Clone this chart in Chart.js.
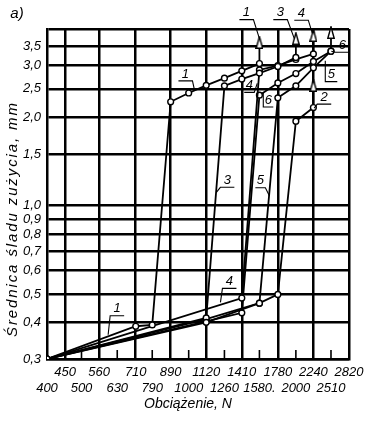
<!DOCTYPE html>
<html>
<head>
<meta charset="utf-8">
<script src="https://cdn.jsdelivr.net/npm/chart.js@4.4.0/dist/chart.umd.min.js"></script>
<style>
  html, body { margin: 0; padding: 0; background: #fff; }
  #wrap { width: 371px; height: 423px; }
</style>
</head>
<body>
<div id="wrap"><canvas id="chart" width="371" height="423"></canvas></div>
<script>
// load stages, N (R20 series) and the two label rows
const loadTicks = [400, 450, 500, 560, 630, 710, 790, 890, 1000, 1120, 1260, 1410, 1580, 1780, 2000, 2240, 2510, 2820];
const upperRow = [450, 560, 710, 890, 1120, 1410, 1780, 2240, 2820];
const wearTicks = [0.3, 0.4, 0.5, 0.6, 0.7, 0.8, 0.9, 1.0, 1.5, 2.0, 2.5, 3.0, 3.5, 4.0];

// wear scar diameter (mm) vs load (N), one pair per curve
const load1 = [400, 710, 790, 890, 1000, 1120, 1260, 1410, 1580];
const wear1 = [0.3, 0.388, 0.392, 2.26, 2.42, 2.57, 2.72, 2.88, 3.05];
const load2 = [400, 1120, 1580, 1780, 2000, 2240];
const wear2 = [0.3, 0.40, 0.465, 0.498, 1.94, 2.16];
const load3 = [400, 1120, 1260, 1410, 1580, 1780, 2000];
const wear3 = [0.3, 0.414, 2.56, 2.70, 2.83, 2.98, 3.2];
const load4 = [400, 1410, 1580, 1780, 2000, 2240];
const wear4 = [0.3, 0.484, 2.9, 3.0, 3.15, 3.29];
const load5 = [400, 1120, 1580, 1780, 2000, 2240, 2510];
const wear5 = [0.3, 0.41, 0.465, 2.33, 2.56, 2.95, 3.36];
const load6 = [400, 1120, 1410, 1580, 1780, 2000, 2240, 2510];
const wear6 = [0.3, 0.403, 0.431, 2.38, 2.62, 2.82, 3.10, 3.36];

// seizure arrows: load, from, to
const arrowLoad = [1580, 2240, 2000, 2240, 2510];
const arrowFrom = [3.05, 2.16, 3.2, 3.29, 3.36];
const arrowTo = [3.60, 2.57, 3.71, 3.80, 3.89];

// dashed guide above arrow of curve 2
const guideLoad = [2240, 2240];
const guideWear = [2.62, 2.95];

const FONT = "'Liberation Sans Narrow', 'Liberation Sans', sans-serif";

function arrowHead() {
  const c = document.createElement('canvas');
  c.width = 8; c.height = 13;
  const g = c.getContext('2d');
  g.beginPath();
  g.moveTo(4, 0.8); g.lineTo(7.2, 12.2); g.lineTo(0.8, 12.2); g.closePath();
  g.fillStyle = '#fff'; g.fill();
  g.lineWidth = 1.4; g.strokeStyle = '#000'; g.stroke();
  return c;
}
const head = arrowHead();

function curve(loads, wear) {
  return {
    data: loads.map((x, i) => ({ x: x, y: wear[i] })),
    borderColor: '#000', borderWidth: 1.8, tension: 0,
    pointRadius: 2.9, pointBackgroundColor: '#fff', pointBorderColor: '#000', pointBorderWidth: 1.4
  };
}
function arrow(i) {
  return {
    data: [{ x: arrowLoad[i], y: arrowFrom[i] }, { x: arrowLoad[i], y: arrowTo[i] }],
    borderColor: '#000', borderWidth: 1.8, clip: false,
    pointRadius: [0, 5], pointStyle: head
  };
}

// callouts: anchor on the curve (load, wear), leader start offset, underline direction
const callouts = [
  { t: '1', load: 1580, wear: 3.71, lx: -6, ly: -19, dir: -1 },
  { t: '3', load: 1980, wear: 3.71, lx: -7, ly: -19, dir: -1 },
  { t: '4', load: 2224, wear: 3.87, lx: -4, ly: -13, dir: -1 },
  { t: '6', load: 2515, wear: 3.36, lx: 4, ly: 1, dir: 1 },
  { t: '5', load: 2419, wear: 3.12, lx: 0, ly: 21, dir: 1, w: 12 },
  { t: '2', load: 2252, wear: 2.15, lx: 3, ly: -4, dir: 1 },
  { t: '1', load: 1038, wear: 2.48, lx: -2, ly: -9, dir: -1 },
  { t: '4', load: 1558, wear: 2.61, lx: -3, ly: 9, dir: -1, w: 10 },
  { t: '6', load: 1620, wear: 2.44, lx: 0, ly: 15, dir: 1, w: 10 },
  { t: '3', load: 1196, wear: 1.11, lx: 4, ly: -5, dir: 1 },
  { t: '5', load: 1685, wear: 1.08, lx: -4, ly: -8, dir: -1, w: 10 },
  { t: '4', load: 1228, wear: 0.468, lx: 2, ly: -14, dir: 1 },
  { t: '1', load: 594, wear: 0.363, lx: 2, ly: -19, dir: 1 }
];

function spacedText(ctx, text, x, y, width) {
  ctx.letterSpacing = '0px';
  const natural = ctx.measureText(text).width;
  const sp = Math.max(0, (width - natural) / (text.length - 1));
  ctx.letterSpacing = sp.toFixed(2) + 'px';
  ctx.fillText(text, x + sp / 2, y);
  ctx.letterSpacing = '0px';
}

const decor = {
  id: 'decor',
  beforeDatasetsDraw(chart) {
    const { ctx, scales: { x }, chartArea } = chart;
    ctx.save();
    ctx.strokeStyle = '#000';
    ctx.lineWidth = 1.6;
    loadTicks.filter(v => !upperRow.includes(v) && v > 400).forEach(v => {
      const px = x.getPixelForValue(v);
      ctx.beginPath();
      ctx.moveTo(px, chartArea.bottom);
      ctx.lineTo(px, chartArea.bottom - 9);
      ctx.stroke();
    });
    ctx.restore();
  },
  afterDraw(chart) {
    const { ctx, scales: { x, y } } = chart;
    ctx.save();
    ctx.fillStyle = '#000';
    ctx.strokeStyle = '#000';
    ctx.textAlign = 'center';
    ctx.textBaseline = 'middle';

    ctx.font = 'italic 15px ' + FONT;
    ctx.fillText('a)', 17, 14);

    ctx.font = 'italic 14px ' + FONT;
    spacedText(ctx, 'Obciążenie, N', 188, 404, 86);

    ctx.save();
    ctx.translate(13, 220);
    ctx.rotate(-Math.PI / 2);
    ctx.font = 'italic 15px ' + FONT;
    spacedText(ctx, 'Średnica śladu zużycia, mm', 0, 0, 234);
    ctx.restore();

    ctx.font = 'italic 13px ' + FONT;
    ctx.lineWidth = 1.1;
    callouts.forEach(c => {
      const ax = x.getPixelForValue(c.load);
      const ay = y.getPixelForValue(c.wear);
      const sx = ax + c.lx, sy = ay + c.ly;
      const w = c.w || 14;
      const ex = sx + c.dir * w;
      ctx.beginPath();
      ctx.moveTo(ax, ay);
      ctx.lineTo(sx, sy);
      ctx.lineTo(ex, sy);
      ctx.stroke();
      ctx.fillText(c.t, (sx + ex) / 2, sy - 7);
    });
    ctx.restore();
  }
};

new Chart(document.getElementById('chart'), {
  type: 'line',
  data: {
    datasets: [
      curve(load1, wear1), curve(load2, wear2), curve(load3, wear3),
      curve(load4, wear4), curve(load5, wear5), curve(load6, wear6),
      arrow(0), arrow(1), arrow(2), arrow(3), arrow(4),
      {
        data: guideLoad.map((x, i) => ({ x: x, y: guideWear[i] })),
        borderColor: '#000', borderWidth: 1, borderDash: [3, 3], pointRadius: 0
      }
    ]
  },
  options: {
    responsive: false,
    animation: false,
    events: [],
    layout: { padding: { top: 29, right: 22, left: 0, bottom: 0 } },
    plugins: { legend: { display: false }, tooltip: { enabled: false } },
    scales: {
      x: {
        type: 'logarithmic', min: 400, max: 2820,
        afterBuildTicks: s => { s.ticks = loadTicks.map(v => ({ value: v })); },
        afterFit: s => { s.height = 64; },
        ticks: {
          autoSkip: false, maxRotation: 0, minRotation: 0, padding: 5, color: '#000',
          font: { family: FONT, size: 13, style: 'italic', lineHeight: 1.25 },
          callback: v => {
            const s = v === 1580 ? '1580.' : String(v);
            return upperRow.includes(v) ? [s] : ['', s];
          }
        },
        grid: {
          color: c => (c.tick && upperRow.includes(c.tick.value)) ? '#000' : 'rgba(0,0,0,0)',
          lineWidth: 2.5, drawTicks: false
        },
        border: { color: '#000', width: 2.5 }
      },
      y: {
        type: 'logarithmic', min: 0.3, max: 4.0,
        afterBuildTicks: s => { s.ticks = wearTicks.map(v => ({ value: v })); },
        afterFit: s => { s.width = 47; },
        ticks: {
          autoSkip: false, padding: 6, color: '#000',
          font: { family: FONT, size: 13, style: 'italic' },
          callback: v => v >= 4 ? '' : v.toFixed(1).replace('.', ',')
        },
        grid: { color: '#000', lineWidth: 2.5, drawTicks: false },
        border: { color: '#000', width: 2.5 }
      }
    }
  },
  plugins: [decor]
});
</script>
</body>
</html>
